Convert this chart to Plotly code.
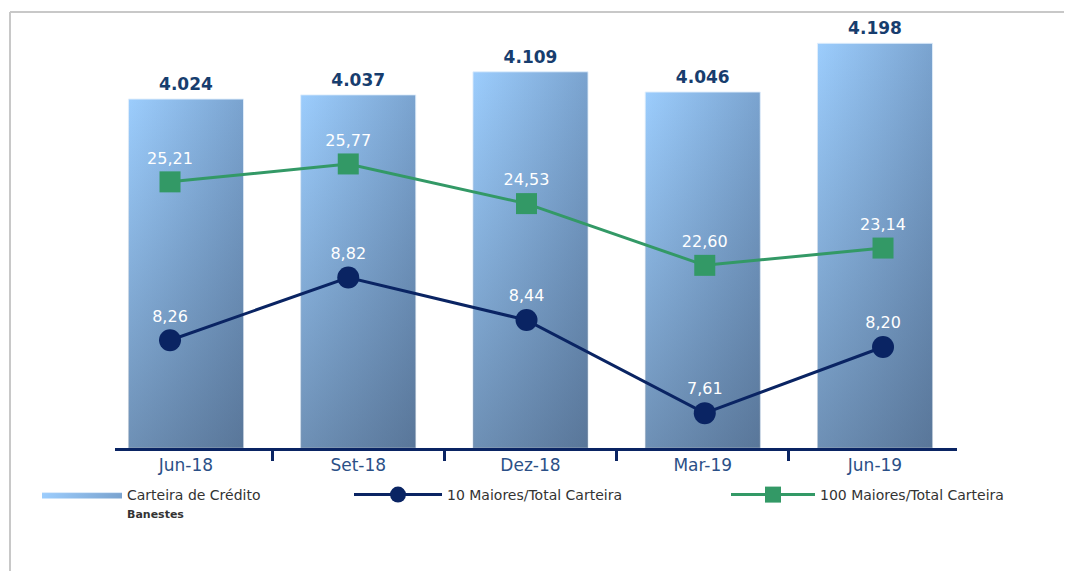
import plotly.graph_objects as go

# ---- data ----
categories = ["Jun-18", "Set-18", "Dez-18", "Mar-19", "Jun-19"]
carteira = [4.024, 4.037, 4.109, 4.046, 4.198]          # Carteira de Crédito Banestes
maiores10 = [8.26, 8.82, 8.44, 7.61, 8.20]              # 10 Maiores/Total Carteira
maiores100 = [25.21, 25.77, 24.53, 22.60, 23.14]        # 100 Maiores/Total Carteira

# ---- styles ----
NAVY = "#0a2463"
GREEN = "#339966"
LABEL_BLUE = "#173d6e"
TICK_BLUE = "#2b5087"
FONT = "DejaVu Sans"

# page body has an 8px margin -> figure is 8px smaller than the window
W, H = 1064, 563
ML, MR, MT, MB = 107, 115, 12, 123
plot_w = W - ML - MR
plot_h = H - MT - MB

y1_range = [2.9356, 4.2706]
x1_range = [-0.412, 4.476]
x2_range = [-0.3086, 4.415]
y2_range = [16.89, 30.27]
y3_range = [7.299, 11.117]
half_w = 0.334


def px_to_paper_x(px):
    return (px - 8 - ML) / plot_w


def px_to_paper_y(py):
    return (H - MB - (py - 8)) / plot_h


idx = list(range(len(categories)))
fig = go.Figure()

# bars as filled polygons with gradient
for i, v in zip(idx, carteira):
    xs = [i - half_w, i + half_w, i + half_w, i - half_w, i - half_w]
    ys = [y1_range[0], y1_range[0], v, v, y1_range[0]]
    fig.add_trace(go.Scatter(
        x=xs, y=ys, mode="lines", fill="toself",
        line=dict(color="rgba(225,238,252,0.9)", width=1),
        fillgradient=dict(type="horizontal",
                          colorscale=[[0, "#9ccdfd"], [1, "#7aa3cf"]]),
        name="Carteira de Crédito<br><span style='font-size:11px'><b>Banestes</b></span>",
        legend="legend", legendgroup="bars", showlegend=(i == 0), hoverinfo="skip",
        xaxis="x", yaxis="y",
    ))
    fig.add_trace(go.Scatter(
        x=xs, y=ys, mode="none", fill="toself",
        fillgradient=dict(type="vertical",
                          colorscale=[[0, "rgba(35,45,65,0.38)"], [1, "rgba(35,45,65,0)"]]),
        showlegend=False, hoverinfo="skip", xaxis="x", yaxis="y",
    ))

# bar value labels
fig.add_trace(go.Scatter(
    x=idx, y=carteira, mode="markers+text",
    marker=dict(size=6, opacity=0),
    text=[f"{v:.3f}" for v in carteira], textposition="top center",
    textfont=dict(family=FONT, size=17, color=LABEL_BLUE, weight="bold"),
    showlegend=False, hoverinfo="skip", xaxis="x", yaxis="y", cliponaxis=False,
))

# 10 maiores line
fig.add_trace(go.Scatter(
    x=idx, y=maiores10, mode="lines+markers+text",
    line=dict(color=NAVY, width=3),
    marker=dict(symbol="circle", size=22, color=NAVY),
    text=[f"{v:.2f}".replace(".", ",") for v in maiores10],
    textposition="top center",
    textfont=dict(family=FONT, size=16, color="white"),
    name="10 Maiores/Total Carteira", legend="legend2",
    xaxis="x2", yaxis="y3", cliponaxis=False,
))

# 100 maiores line
fig.add_trace(go.Scatter(
    x=idx, y=maiores100, mode="lines+markers+text",
    line=dict(color=GREEN, width=3),
    marker=dict(symbol="square", size=21, color=GREEN),
    text=[f"{v:.2f}".replace(".", ",") for v in maiores100],
    textposition="top center",
    textfont=dict(family=FONT, size=16, color="white"),
    name="100 Maiores/Total Carteira", legend="legend3",
    xaxis="x2", yaxis="y2", cliponaxis=False,
))

legend_font = dict(family=FONT, size=14, color="#333333")
legend_y = px_to_paper_y(479)


def legend_cfg(left_px, itemwidth):
    return dict(orientation="h", x=px_to_paper_x(left_px), xanchor="left",
                y=legend_y, yanchor="top", itemwidth=itemwidth, valign="top",
                font=legend_font, bgcolor="rgba(0,0,0,0)")


fig.update_layout(
    width=W, height=H,
    margin=dict(l=ML, r=MR, t=MT, b=MB, pad=0),
    paper_bgcolor="white", plot_bgcolor="rgba(0,0,0,0)",
    font=dict(family=FONT, size=14, color="#333333"),
    xaxis=dict(range=x1_range, tickmode="array", tickvals=idx, ticktext=categories,
               showgrid=False, zeroline=False, showline=True, linecolor=NAVY, linewidth=3,
               ticks="", tickfont=dict(family=FONT, size=17, color=TICK_BLUE),
               minor=dict(tickmode="array", tickvals=[i + 0.5 for i in idx[:-1]],
                          ticks="outside", ticklen=10, tickwidth=3, tickcolor=NAVY,
                          showgrid=False),
               fixedrange=True),
    xaxis2=dict(range=x2_range, overlaying="x", visible=False, fixedrange=True),
    yaxis=dict(range=y1_range, visible=False, fixedrange=True),
    yaxis2=dict(range=y2_range, overlaying="y", visible=False, fixedrange=True),
    yaxis3=dict(range=y3_range, overlaying="y", visible=False, fixedrange=True),
    legend=legend_cfg(37, 80),
    legend2=legend_cfg(349, 88),
    legend3=legend_cfg(726, 84),
    showlegend=True,
    shapes=[
        dict(type="line", xref="paper", yref="paper",
             x0=px_to_paper_x(10), x1=px_to_paper_x(1080),
             y0=px_to_paper_y(12), y1=px_to_paper_y(12),
             line=dict(color="#c8c8c8", width=2)),
        dict(type="line", xref="paper", yref="paper",
             x0=px_to_paper_x(10), x1=px_to_paper_x(10),
             y0=px_to_paper_y(12), y1=px_to_paper_y(580),
             line=dict(color="#c8c8c8", width=2)),
    ],
)

fig.write_html("out.html")
